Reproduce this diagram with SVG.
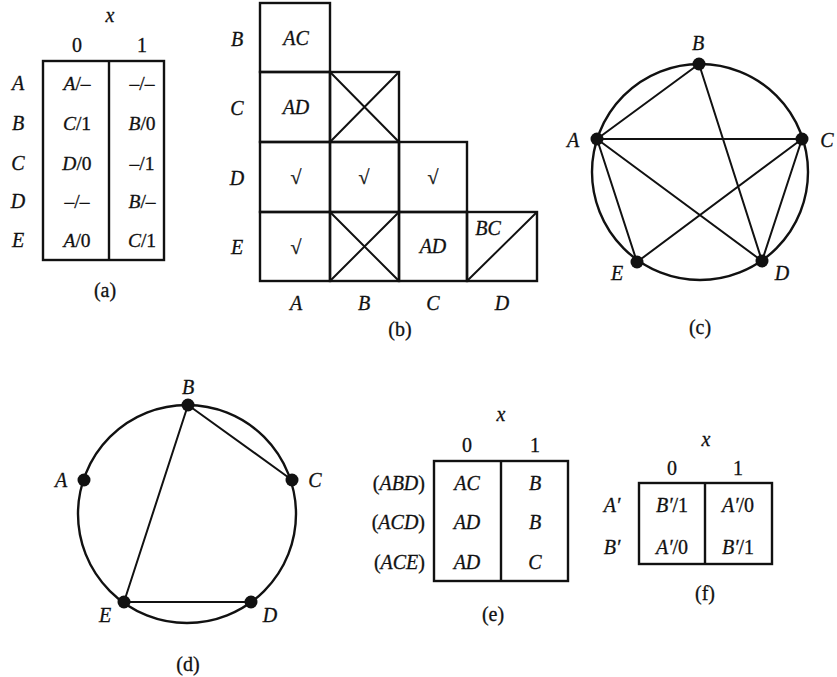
<svg xmlns="http://www.w3.org/2000/svg" width="837" height="677" viewBox="0 0 837 677">
<style>
text{font-family:"Liberation Serif","Times New Roman",serif;font-size:20px;fill:#111;stroke:#111;stroke-width:0.3;text-anchor:middle}
.i{font-style:italic}
.c{font-size:19.5px}
.box{fill:none;stroke:#111;stroke-width:2.4}
.ln{fill:none;stroke:#111;stroke-width:2}
.ch{stroke:#111;stroke-width:2}
.circ{fill:none;stroke:#111;stroke-width:2.4}
.dot{fill:#111}
</style>
<rect width="837" height="677" fill="#fff"/>

<!-- (a) -->
<g id="table-a">
<text class="i" x="110" y="22">x</text>
<text x="77" y="52">0</text><text x="142" y="52">1</text>
<rect class="box" x="43" y="61" width="121" height="199"/>
<line class="box" x1="109" y1="61" x2="109" y2="260"/>
<text class="i" x="18" y="90">A</text>
<text class="i" x="18" y="130">B</text>
<text class="i" x="18" y="170">C</text>
<text class="i" x="18" y="208">D</text>
<text class="i" x="18" y="247">E</text>
<text class="c" x="77" y="90"><tspan class="i">A</tspan>/–</text>
<text class="c" x="142" y="90">–/–</text>
<text class="c" x="77" y="130"><tspan class="i">C</tspan>/1</text>
<text class="c" x="142" y="130"><tspan class="i">B</tspan>/0</text>
<text class="c" x="77" y="170"><tspan class="i">D</tspan>/0</text>
<text class="c" x="142" y="170">–/1</text>
<text class="c" x="77" y="208">–/–</text>
<text class="c" x="142" y="208"><tspan class="i">B</tspan>/–</text>
<text class="c" x="77" y="247"><tspan class="i">A</tspan>/0</text>
<text class="c" x="142" y="247"><tspan class="i">C</tspan>/1</text>
<text x="105" y="297">(a)</text>
</g>

<!-- (b) -->
<g id="table-b">
<rect class="box" x="260" y="3" width="70" height="69"/>
<rect class="box" x="260" y="72" width="70" height="70"/>
<rect class="box" x="330" y="72" width="69" height="70"/>
<rect class="box" x="260" y="142" width="70" height="70"/>
<rect class="box" x="330" y="142" width="69" height="70"/>
<rect class="box" x="399" y="142" width="68" height="70"/>
<rect class="box" x="260" y="212" width="70" height="69"/>
<rect class="box" x="330" y="212" width="69" height="69"/>
<rect class="box" x="399" y="212" width="68" height="69"/>
<rect class="box" x="467" y="212" width="70" height="69"/>
<path class="ln" d="M330 72L399 142M399 72L330 142M330 212L399 281M399 212L330 281M467 281L537 212"/>
<text class="i" x="237" y="46">B</text>
<text class="i" x="237" y="115">C</text>
<text class="i" x="237" y="185">D</text>
<text class="i" x="237" y="254">E</text>
<text class="i" x="296" y="310">A</text>
<text class="i" x="364" y="310">B</text>
<text class="i" x="433" y="310">C</text>
<text class="i" x="502" y="310">D</text>
<text class="i" x="296" y="45">AC</text>
<text class="i" x="296" y="114">AD</text>
<text x="296" y="184">√</text>
<text x="364" y="184">√</text>
<text x="433" y="184">√</text>
<text x="296" y="254">√</text>
<text class="i" x="433" y="253">AD</text>
<text class="i" x="488" y="235">BC</text>
<text x="400" y="336">(b)</text>
</g>

<!-- (c) -->
<g id="graph-c">
<circle class="circ" cx="700" cy="172" r="108"/>
<g id="c-edges">
<path class="ch" d="M597 139L699 64M597 139L802 139M597 139L637 262M597 139L762 261M699 64L762 261M802 139L637 262M802 139L762 261"/>
</g>
<g id="c-A"><circle class="dot" cx="597" cy="139" r="6.5"/><text class="i" x="573" y="147">A</text></g>
<g id="c-B"><circle class="dot" cx="699" cy="64" r="6.5"/><text class="i" x="698" y="50">B</text></g>
<g id="c-C"><circle class="dot" cx="802" cy="139" r="6.5"/><text class="i" x="827" y="147">C</text></g>
<g id="c-D"><circle class="dot" cx="762" cy="261" r="6.5"/><text class="i" x="782" y="280">D</text></g>
<g id="c-E"><circle class="dot" cx="637" cy="262" r="6.5"/><text class="i" x="617" y="280">E</text></g>
<text x="700" y="334">(c)</text>
</g>

<!-- (d) -->
<g id="graph-d">
<circle class="circ" cx="187" cy="514" r="109"/>
<g id="d-edges">
<path class="ch" d="M188 405L292 480M188 405L124 602M124 602L251 602"/>
</g>
<g id="d-A"><circle class="dot" cx="84" cy="480" r="6.5"/><text class="i" x="61" y="487">A</text></g>
<g id="d-B"><circle class="dot" cx="188" cy="405" r="6.5"/><text class="i" x="188" y="394">B</text></g>
<g id="d-C"><circle class="dot" cx="292" cy="480" r="6.5"/><text class="i" x="315" y="487">C</text></g>
<g id="d-D"><circle class="dot" cx="251" cy="602" r="6.5"/><text class="i" x="270" y="622">D</text></g>
<g id="d-E"><circle class="dot" cx="124" cy="602" r="6.5"/><text class="i" x="105" y="622">E</text></g>
<text x="188" y="671">(d)</text>
</g>

<!-- (e) -->
<g id="table-e">
<text class="i" x="501" y="421">x</text>
<text x="467" y="452">0</text><text x="535" y="452">1</text>
<rect class="box" x="434" y="461" width="134" height="120"/>
<line class="box" x1="501" y1="461" x2="501" y2="581"/>
<text x="425" y="490" style="text-anchor:end">(<tspan class="i">ABD</tspan>)</text>
<text x="425" y="529" style="text-anchor:end">(<tspan class="i">ACD</tspan>)</text>
<text x="425" y="569" style="text-anchor:end">(<tspan class="i">ACE</tspan>)</text>
<text class="i" x="467" y="490">AC</text><text class="i" x="535" y="490">B</text>
<text class="i" x="467" y="529">AD</text><text class="i" x="535" y="529">B</text>
<text class="i" x="467" y="569">AD</text><text class="i" x="535" y="569">C</text>
<text x="493" y="621">(e)</text>
</g>

<!-- (f) -->
<g id="table-f">
<text class="i" x="706" y="446">x</text>
<text x="672" y="475">0</text><text x="738" y="475">1</text>
<rect class="box" x="639" y="483" width="133" height="81"/>
<line class="box" x1="705" y1="483" x2="705" y2="564"/>
<text class="i" x="612" y="512">A′</text>
<text class="i" x="612" y="554">B′</text>
<text x="672" y="512"><tspan class="i">B′</tspan>/1</text>
<text x="738" y="512"><tspan class="i">A′</tspan>/0</text>
<text x="672" y="554"><tspan class="i">A′</tspan>/0</text>
<text x="738" y="554"><tspan class="i">B′</tspan>/1</text>
<text x="705" y="600">(f)</text>
</g>
</svg>
